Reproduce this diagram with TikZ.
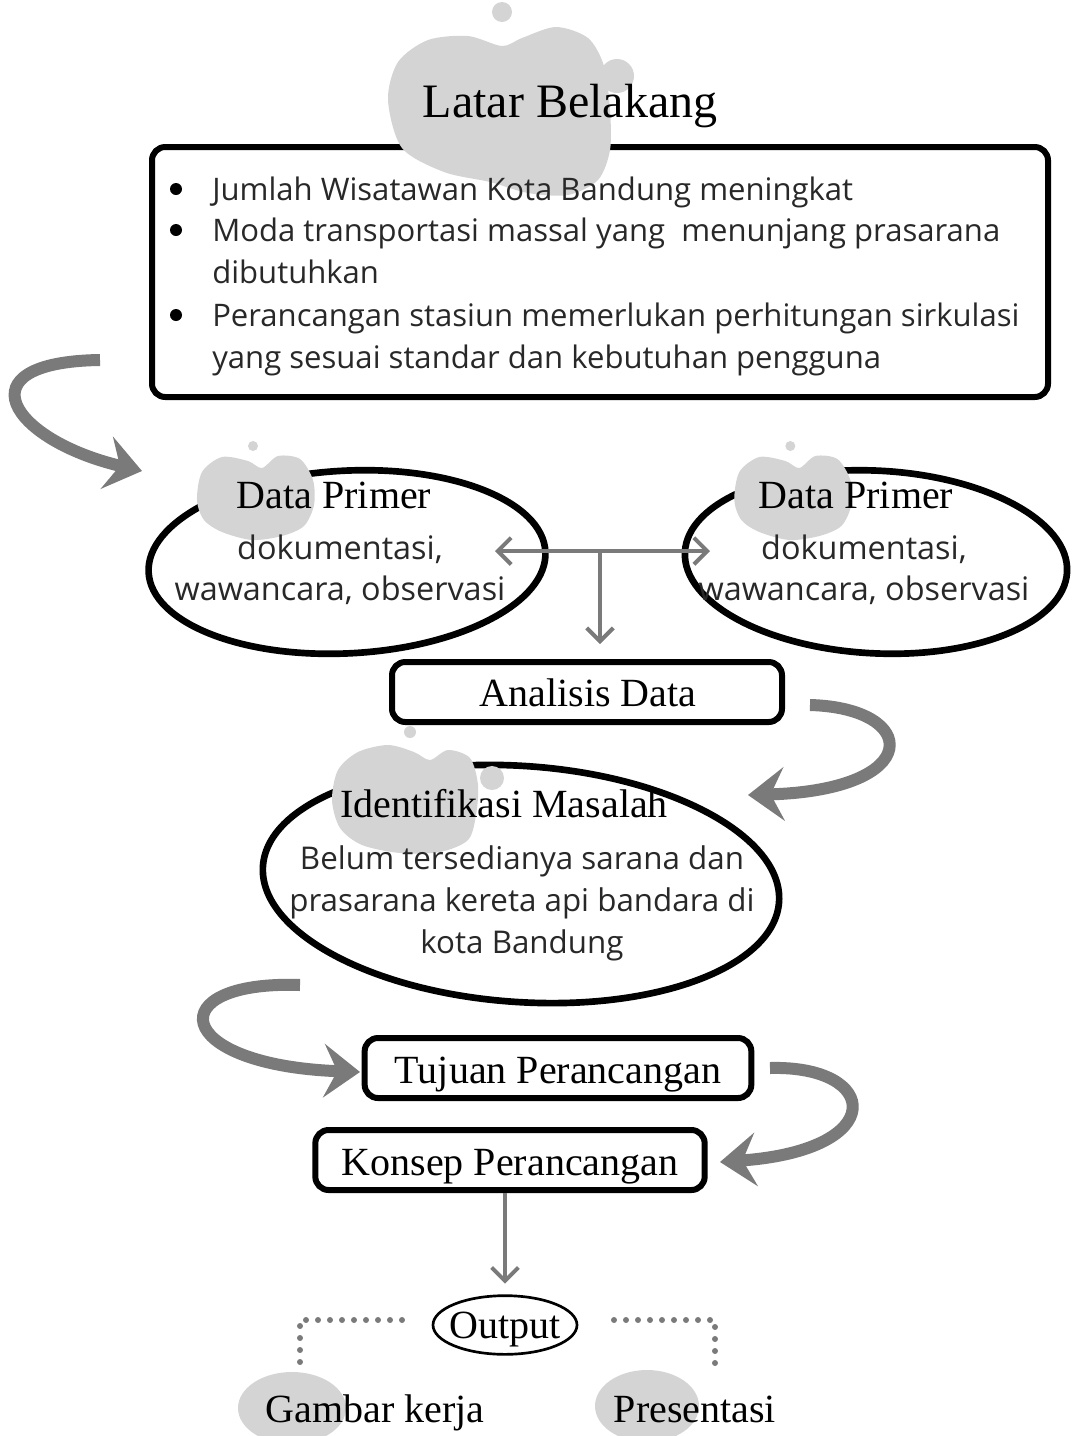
\documentclass[tikz,border=0pt]{standalone}
\usepackage{fontspec}
\setmainfont{Liberation Serif}
\newfontfamily\osans{Open Sans}
\usetikzlibrary{arrows.meta,shapes.geometric}
\definecolor{blobc}{RGB}{212,212,212}
\definecolor{arrc}{RGB}{122,122,122}
\definecolor{txtc}{RGB}{40,40,40}
\begin{document}
\begin{tikzpicture}[x=0.75pt,y=-0.75pt,
  bigttl/.style={font=\fontsize{36}{40}\selectfont, inner sep=0pt, anchor=base},
  ttl/.style={font=\fontsize{30}{34}\selectfont, inner sep=0pt, anchor=base},
  body/.style={font=\osans\fontsize{23.3}{30}\selectfont, text=txtc, inner sep=0pt, anchor=base},
  bodyl/.style={font=\osans\fontsize{24.3}{30}\selectfont, text=txtc, inner sep=0pt, anchor=base},
  bodyi/.style={font=\osans\fontsize{23.5}{30}\selectfont, text=txtc, inner sep=0pt, anchor=base},
  bodyw/.style={body, anchor=base west},
  bul/.style={circle, fill=black, inner sep=0pt, minimum size=9pt},
  boxr/.style={draw, line width=4.5pt, rounded corners=10pt, inner sep=0pt},
  oval/.style={draw, ellipse, line width=5pt, inner sep=0pt},
  bigarrow/.style={draw=arrc, line width=9pt, -{Stealth[length=27pt,width=40pt,inset=10pt]}},
  thinarrow/.style={draw=arrc, line width=3pt, -{Straight Barb[length=10pt,width=20pt,line width=3pt]}},
  dotline/.style={draw=arrc, line width=4.5pt, line cap=round, dash pattern=on 0pt off 9pt},
  blob/.style={fill=blobc}
]
\useasboundingbox (0,0) rectangle (1072,1436);

% ---------- Latar Belakang ----------
\node[boxr, minimum width=672pt, minimum height=187.5pt] (lb) at (600,272) {};
\fill[blob] plot[smooth cycle] coordinates {(388,100) (398,62) (428,40) (468,36) (502,46) (522,38) (556,27) (588,38) (604,66) (610,110) (610,150) (598,180) (568,195) (528,193) (490,182) (444,172) (402,148)};
\fill[blob] (502,12) circle (10);
\fill[blob] (617,76) circle (17);
\node[bigttl] (lbt) at (570,117) {Latar Belakang};

\node[bul] (b1) at (176,189) {};
\node[bodyw] (l1) at (212,200) {Jumlah Wisatawan Kota Bandung meningkat};
\node[bul] (b2) at (176,230) {};
\node[bodyw] (l2) at (212,241) {Moda transportasi massal yang\ \ menunjang prasarana};
\node[bodyw] (l3) at (212,283) {dibutuhkan};
\node[bul] (b3) at (176,315) {};
\node[bodyw] (l4) at (212,326) {Perancangan stasiun memerlukan perhitungan sirkulasi};
\node[bodyw] (l5) at (212,368) {yang sesuai standar dan kebutuhan pengguna};

% ---------- Data Primer (left / right) ----------
\node[oval, minimum width=298pt, minimum height=137pt, rotate=3] (dpl) at (347,562) {};
\node[oval, minimum width=287pt, minimum height=137pt, rotate=-3] (dpr) at (876,562) {};

\fill[blob] plot[smooth cycle] coordinates {(197,500) (202,472) (222,457) (248,461) (262,468) (278,456) (300,459) (313,480) (314,505) (304,526) (282,536) (252,540) (222,532) (204,520)};
\fill[blob] (253,446) circle (5);
\begin{scope}[xshift=403pt]
\fill[blob] plot[smooth cycle] coordinates {(197,500) (202,472) (222,457) (248,461) (262,468) (278,456) (300,459) (313,480) (314,505) (304,526) (282,536) (252,540) (222,532) (204,520)};
\fill[blob] (253,446) circle (5);
\end{scope}

\node[ttl] (dplt) at (334,508) {Data Primer};
\node[bodyl] (dpl1) at (340,559) {dokumentasi,};
\node[bodyl] (dpl2) at (340,600) {wawancara, observasi};
\node[ttl] (dprt) at (856,508) {Data Primer};
\node[bodyl] (dpr1) at (864,559) {dokumentasi,};
\node[bodyl] (dpr2) at (864,600) {wawancara, observasi};

\coordinate (hub) at (600,551);
\coordinate (dpa) at (495,551);
\coordinate (dpb) at (710,551);
\coordinate (anatop) at (600,644);
\draw[thinarrow] (hub) -- (dpa);
\draw[thinarrow] (hub) -- (dpb);
\draw[thinarrow] (hub) -- (anatop);

% ---------- Analisis Data ----------
\node[boxr, minimum width=292.5pt, minimum height=45pt] (ana) at (587,692) {};
\node[ttl] (anat) at (588,706) {Analisis Data};

% ---------- Identifikasi Masalah ----------
\node[oval, minimum width=388pt, minimum height=177pt, rotate=-4] (idm) at (521,884) {};
\fill[blob] plot[smooth cycle] coordinates {(332,800) (338,770) (358,752) (388,745) (414,752) (430,760) (448,750) (470,758) (478,785) (476,815) (468,840) (440,852) (400,853) (362,845) (340,828)};
\fill[blob] (410,732) circle (6);
\fill[blob] (492,778) circle (12);
\node[ttl] (idmt) at (504,817) {Identifikasi Masalah};
\node[bodyi] (idm1) at (522,869) {Belum tersedianya sarana dan};
\node[bodyi] (idm2) at (522,911) {prasarana kereta api bandara di};
\node[bodyi] (idm3) at (522,953) {kota Bandung};

% ---------- Tujuan / Konsep ----------
\node[boxr, minimum width=290pt, minimum height=45pt] (tuj) at (558,1068) {};
\node[ttl] (tujt) at (558,1083) {Tujuan Perancangan};
\node[boxr, minimum width=292pt, minimum height=45pt] (kon) at (510,1160) {};
\node[ttl] (kont) at (510,1175) {Konsep Perancangan};

% ---------- Output ----------
\node[draw, ellipse, line width=2pt, minimum width=108pt, minimum height=44pt, inner sep=0pt] (out) at (505,1325) {};
\node[ttl] (outt) at (505,1338) {Output};
\draw[thinarrow, shorten >=8pt] (kon.south -| out) -- (out.north);

\fill[blob] (292,1408) ellipse (54 and 36);
\fill[blob] (647,1406) ellipse (52 and 36);
\node[ttl] (gk) at (375,1422) {Gambar kerja};
\node[ttl] (pr) at (695,1422) {Presentasi};

\coordinate (dl1) at (402,1320);
\coordinate (dl2) at (300,1320);
\coordinate (dl3) at (300,1368);
\coordinate (dr1) at (614,1320);
\coordinate (dr2) at (715,1320);
\coordinate (dr3) at (715,1368);
\draw[dotline] (dl1) -- (dl2) -- (dl3);
\draw[dotline] (dr1) -- (dr2) -- (dr3);

% ---------- big curved arrows ----------
\coordinate (a1s) at (100,360);
\coordinate (a1e) at (142,471);
\draw[bigarrow] (a1s) .. controls (-40,362) and (10,440) .. (a1e);
\coordinate (a2s) at (810,705);
\coordinate (a2e) at (748,795);
\draw[bigarrow] (a2s) .. controls (920,708) and (925,790) .. (a2e);
\coordinate (a3s) at (300,985);
\coordinate (a3e) at (360,1072);
\draw[bigarrow] (a3s) .. controls (160,980) and (170,1065) .. (a3e);
\coordinate (a4s) at (770,1068);
\coordinate (a4e) at (720,1162);
\draw[bigarrow] (a4s) .. controls (880,1065) and (890,1150) .. (a4e);
\end{tikzpicture}
\end{document}
